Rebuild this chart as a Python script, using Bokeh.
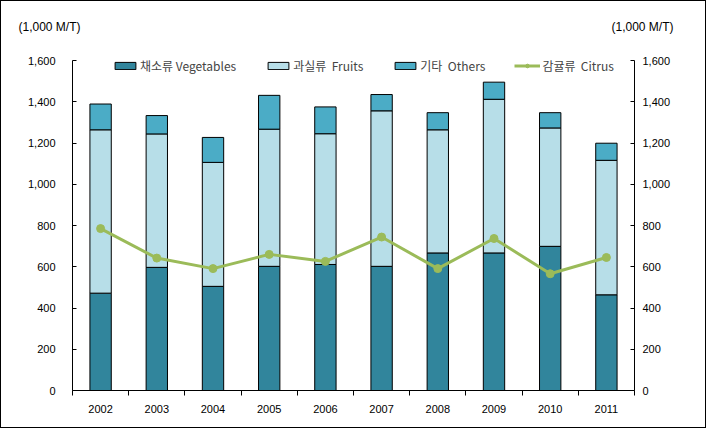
from bokeh.plotting import figure
from bokeh.models import (ColumnDataSource, LinearAxis, FixedTicker, NumeralTickFormatter,
                          Legend, LegendItem, Label)
from bokeh.embed import file_html
from bokeh.resources import INLINE

years = ["2002", "2003", "2004", "2005", "2006", "2007", "2008", "2009", "2010", "2011"]
vegetables = [472, 597, 505, 602, 611, 602, 667, 667, 699, 464]
fruits = [792, 647, 601, 665, 634, 754, 597, 745, 574, 652]
others = [125, 89, 121, 164, 130, 79, 83, 83, 74, 83]
citrus = [785, 642, 591, 660, 626, 744, 591, 737, 566, 645]
y_ticks = [0, 200, 400, 600, 800, 1000, 1200, 1400, 1600]
unit_label = "(1,000  M/T)"
legend_labels = ["채소류 Vegetables", "과실류  Fruits", "기타  Others", "감귤류  Citrus"]

# layout (pixels inside the canvas)
W, H = 706, 428
AX_L, AX_R, AX_T, AX_B = 71, 633, 59, 389
n = len(years)
YMAX = y_ticks[-1]
px_x = (AX_R - AX_L) / n
px_y = (AX_B - AX_T) / YMAX
x_range = (-AX_L / px_x, n + (W - AX_R) / px_x)
y_range = (-(H - AX_B) / px_y, YMAX + AX_T / px_y)

def dx(px):
    return (px - AX_L) / px_x

def dy(py):
    return YMAX + (AX_T - py) / px_y

xs = [i + 0.5 for i in range(n)]
src = ColumnDataSource(dict(x=xs, veg=vegetables, fruits=fruits, others=others, citrus=citrus))

NUM_FONT = "Liberation Sans"
KR_FONT = "Noto Sans CJK KR"

p = figure(width=W, height=H, x_range=x_range, y_range=y_range,
           output_backend="svg", toolbar_location=None,
           min_border_left=0, min_border_right=0, min_border_top=0, min_border_bottom=0)
p.styles = {"border": "1px solid black"}
p.outline_line_color = None
p.xgrid.visible = False
p.ygrid.visible = False
p.background_fill_color = "white"
p.border_fill_color = "white"

bars = p.vbar_stack(["veg", "fruits", "others"], x="x", width=0.38, source=src,
                    color=["#31859C", "#B7DEE8", "#4BACC6"], line_color="black", line_width=1)
ln = p.line("x", "citrus", source=src, line_color="#9BBB59", line_width=3)
pts = p.scatter("x", "citrus", source=src, size=8, color="#9BBB59")

# x axis: labels at centers, ticks at boundaries
xa = p.xaxis[0]
xa.fixed_location = 0
xa.bounds = (0, n)
xa.ticker = FixedTicker(ticks=xs, minor_ticks=list(range(n + 1)))
xa.major_label_overrides = {x: y for x, y in zip(xs, years)}
xa.major_tick_out = 0
xa.major_tick_in = 0
xa.minor_tick_out = 5
xa.minor_tick_in = 0
xa.minor_tick_line_color = "black"
xa.axis_line_color = "black"
xa.major_label_standoff = 9
xa.major_label_text_font = NUM_FONT
xa.major_label_text_font_size = "11px"
xa.major_label_text_color = "black"

def style_y(ax, standoff, loc):
    ax.fixed_location = loc
    ax.bounds = (0, YMAX)
    ax.ticker = FixedTicker(ticks=y_ticks)
    ax.formatter = NumeralTickFormatter(format="0,0")
    ax.major_tick_in = 4
    ax.major_tick_out = 0
    ax.minor_tick_line_color = None
    ax.axis_line_color = "black"
    ax.major_tick_line_color = "black"
    ax.major_label_standoff = standoff
    ax.major_label_text_font = NUM_FONT
    ax.major_label_text_font_size = "11px"
    ax.major_label_text_color = "black"

style_y(p.yaxis[0], 17, 0)
right = LinearAxis()
style_y(right, 8, n)
p.add_layout(right, "right")

legend = Legend(items=[LegendItem(label=legend_labels[0], renderers=[bars[0]]),
                       LegendItem(label=legend_labels[1], renderers=[bars[1]]),
                       LegendItem(label=legend_labels[2], renderers=[bars[2]]),
                       LegendItem(label=legend_labels[3], renderers=[ln, pts])],
                orientation="horizontal", location=(111, H - 73),
                label_text_font=KR_FONT, label_text_font_size="12px",
                glyph_width=26, glyph_height=9, spacing=29, padding=0, margin=0,
                label_standoff=2, border_line_color=None, background_fill_alpha=0)
p.add_layout(legend)

for px_left in (17, 610):
    p.add_layout(Label(x=dx(px_left), y=dy(25), text=unit_label,
                       text_font=NUM_FONT, text_font_size="12px", text_baseline="middle",
                       text_align="left", text_color="black"))

open("out.html", "w").write(file_html(p, INLINE))
